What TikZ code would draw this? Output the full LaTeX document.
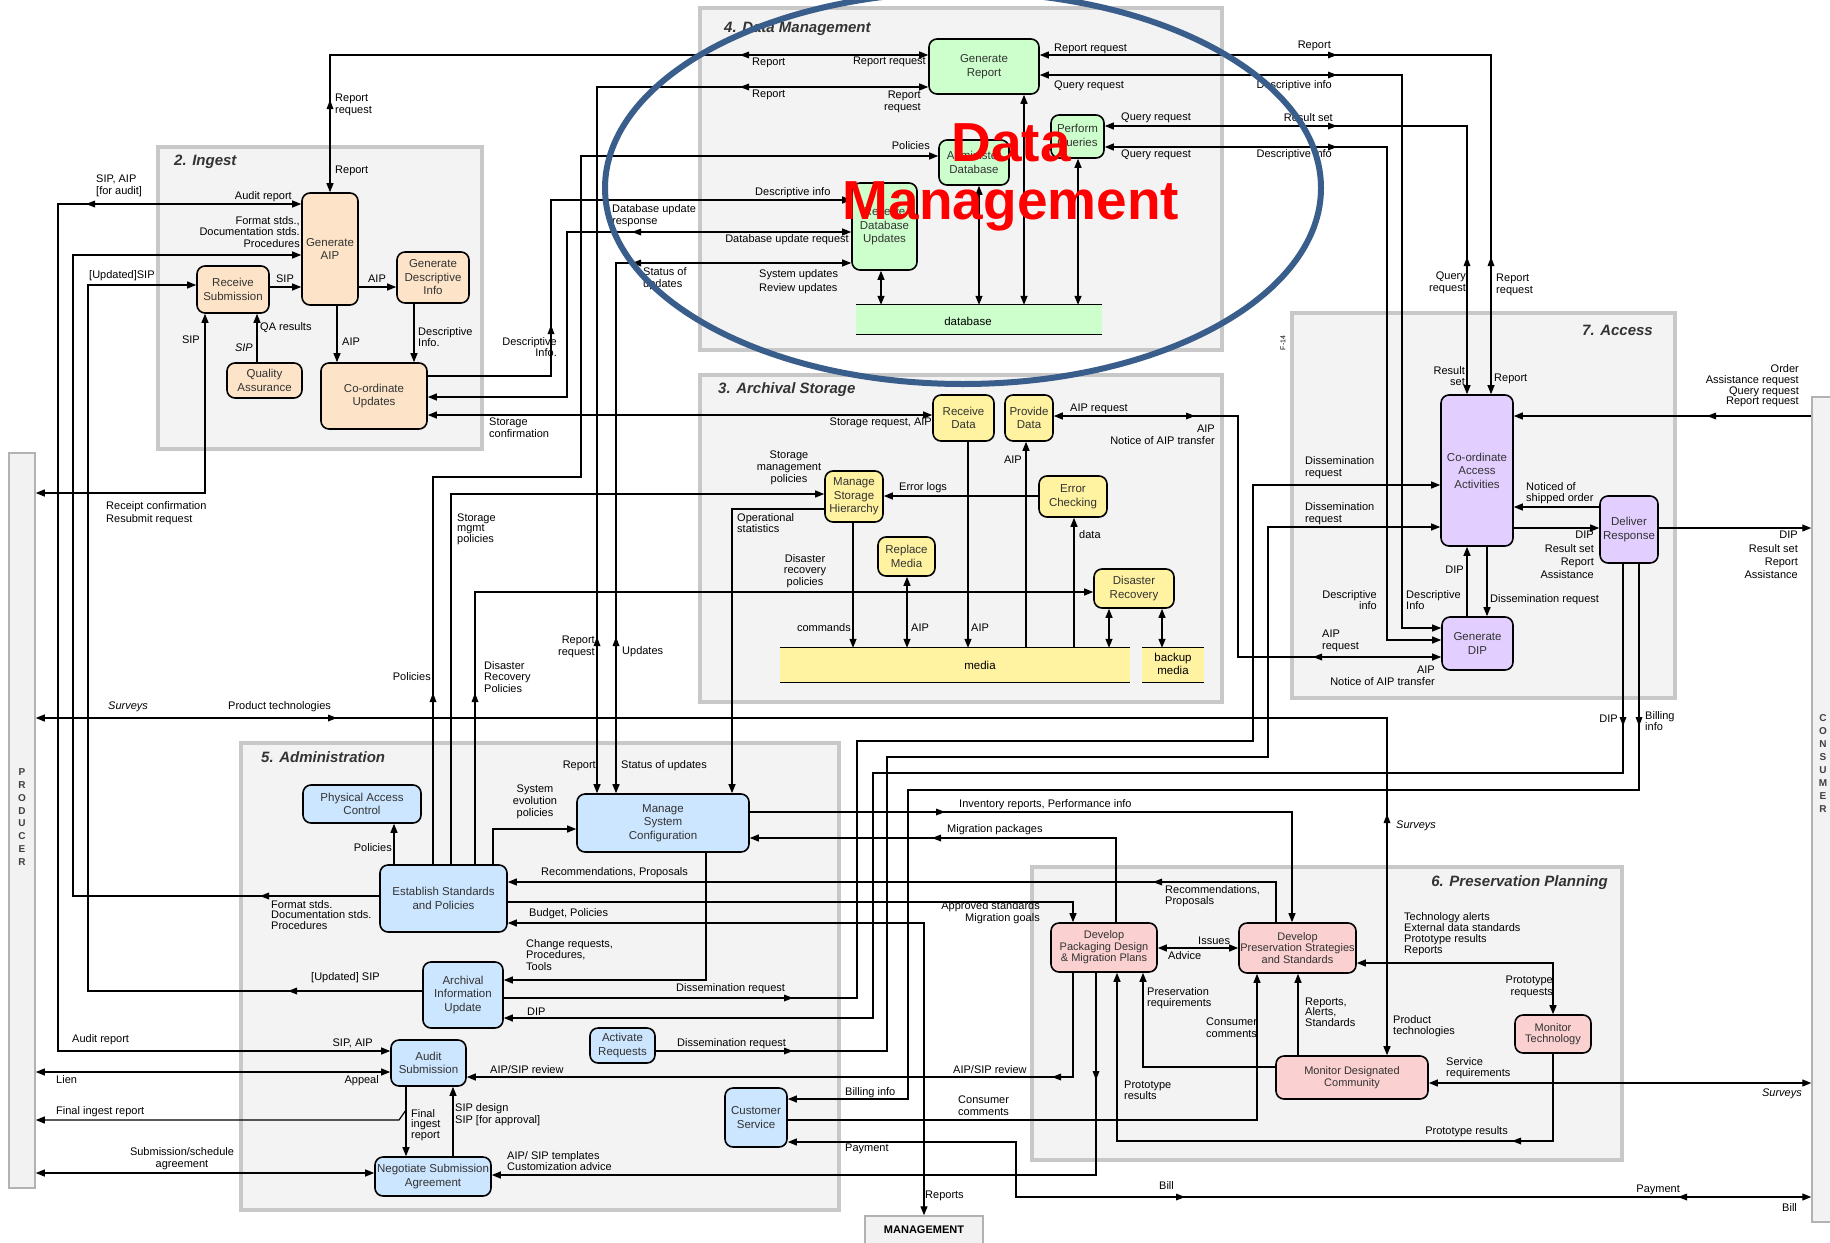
\documentclass[tikz,border=0pt]{standalone}
\usepackage{fontspec}
\setmainfont{Liberation Sans}
\usetikzlibrary{arrows.meta}
\pgfdeclarelayer{bg}
\pgfdeclarelayer{fg}
\pgfsetlayers{bg,main,fg}
\definecolor{cIng}{RGB}{253,228,200}
\definecolor{cDM}{RGB}{204,255,204}
\definecolor{cAS}{RGB}{255,242,160}
\definecolor{cAC}{RGB}{226,206,255}
\definecolor{cAD}{RGB}{204,230,255}
\definecolor{cPP}{RGB}{250,208,208}
\definecolor{grpfill}{RGB}{243,243,243}
\definecolor{grpline}{RGB}{200,200,200}
\definecolor{ringblue}{RGB}{58,94,140}
\newcommand\nodefont{\fontsize{11.5}{13.5}\selectfont}
\newcommand\ppfont{\fontsize{11}{11.5}\selectfont}
\newcommand\lbfont{\fontsize{11}{11.8}\selectfont}
\newcommand\tightfont{\fontsize{11}{10.6}\selectfont}
\newcommand\ttlfont{\fontsize{15}{17}\selectfont\bfseries\itshape}
% small filled arrowheads placed along long flow lines
\newcommand\midR[2]{\fill (#1,#2) -- ++(-9,-3.5) -- ++(0,7) -- cycle;}
\newcommand\midL[2]{\fill (#1,#2) -- ++(9,-3.5) -- ++(0,7) -- cycle;}
\newcommand\midU[2]{\fill (#1,#2) -- ++(-3.5,9) -- ++(7,0) -- cycle;}
\newcommand\midD[2]{\fill (#1,#2) -- ++(-3.5,-9) -- ++(7,0) -- cycle;}
\tikzset{
  sz/.style 2 args={minimum width=#1, minimum height=#2},
  box/.style={draw=black, line width=1.6pt, rounded corners=8pt, align=center, inner sep=1pt, font=\nodefont, text=black!80},
  ing/.style={box, fill=cIng},
  dm/.style={box, fill=cDM},
  as/.style={box, fill=cAS},
  ac/.style={box, fill=cAC},
  ad/.style={box, fill=cAD},
  pp/.style={box, fill=cPP, font=\ppfont},
  strip/.style={draw=none, inner sep=0pt},
  bar/.style={draw=gray!60, line width=1.5pt, fill=gray!10, inner sep=0pt},
  lbl/.style={font=\lbfont, inner sep=0pt, text=black},
  lw/.style={lbl, anchor=west, align=left},
  le/.style={lbl, anchor=east, align=right},
  lc/.style={lbl, align=center},
  ttl/.style={font=\ttlfont, text=black!80, inner sep=0pt},
  con/.style={line width=1.2pt},
  ar/.style={con, -{Triangle[length=9pt,width=7pt]}},
  dar/.style={con, {Triangle[length=9pt,width=7pt]}-{Triangle[length=9pt,width=7pt]}},
  grp/.style={draw=grpline, line width=4pt, fill=grpfill},
  lettr/.style={font=\fontsize{10}{12.9}\selectfont\bfseries, align=center, text=black!75, inner sep=0pt}
}
\begin{document}
\begin{tikzpicture}[x=1pt,y=-1pt]
\useasboundingbox (0,0) rectangle (1830,1242);

% ---------- external entities ----------
\node[bar, sz={26}{735}] (PROD) at (22,820.5) {};
\node[lettr] (prodtxt) at (22,817) {P\\R\\O\\D\\U\\C\\E\\R};
\node[bar, sz={20}{825}] (CONS) at (1822,809.5) {};
\node[lettr] (constxt) at (1823,763.5) {C\\O\\N\\S\\U\\M\\E\\R};
\node[bar, sz={118}{28}, font=\fontsize{11}{12}\selectfont\bfseries] (MGMT) at (924,1230) {MANAGEMENT};

% ---------- 2. Ingest ----------
\node[ing, sz={72}{47}] (RS) at (233,289.5) {Receive\\Submission};
\node[ing, sz={56}{112}] (GAIP) at (330,249) {Generate\\AIP};
\node[ing, sz={72}{51}] (GDI) at (433,277.5) {Generate\\Descriptive\\Info};
\node[ing, sz={75}{35}] (QA) at (264.5,380.5) {Quality\\Assurance};
\node[ing, sz={106}{66}] (CU) at (374,396) {Co-ordinate\\Updates};

% ---------- 4. Data Management ----------
\node[dm, sz={110}{55}] (GR) at (984,66.5) {Generate\\Report};
\node[dm, sz={53}{43}] (PQ) at (1077.5,136.5) {Perform\\Queries};
\node[dm, sz={70}{45}] (AD) at (974,162.5) {Administer\\Database};
\node[dm, sz={65}{87}] (RDU) at (884.5,226.5) {Receive\\Database\\Updates};
\node[strip, fill=cDM, sz={246}{29}] (db) at (979,319.5) {};

% ---------- 3. Archival Storage ----------
\node[as, sz={61}{46}] (RD) at (963.5,418) {Receive\\Data};
\node[as, sz={48}{46}] (PD) at (1029,418) {Provide\\Data};
\node[as, sz={58}{51}] (MSH) at (854,496.5) {Manage\\Storage\\Hierarchy};
\node[as, sz={68}{41}] (EC) at (1073,496.5) {Error\\Checking};
\node[as, sz={57}{39}] (RM) at (906.5,556.5) {Replace\\Media};
\node[as, sz={80}{39}] (DR) at (1134,588.5) {Disaster\\Recovery};
\node[strip, fill=cAS, sz={350}{34}] (media) at (955,665) {};
\node[strip, fill=cAS, sz={62}{34}] (backup) at (1173,665) {};

% ---------- 7. Access ----------
\node[ac, sz={72}{151}] (CAA) at (1477,470.5) {Co-ordinate\\Access\\Activities};
\node[ac, sz={58}{67}] (DRsp) at (1629,529.5) {Deliver\\Response};
\node[ac, sz={71}{53}] (GDIP) at (1477.5,643.5) {Generate\\DIP};

% ---------- 5. Administration ----------
\node[ad, sz={118}{38}] (PAC) at (362,804) {Physical Access\\Control};
\node[ad, sz={172}{58}] (MSC) at (663,823) {Manage\\System\\Configuration};
\node[ad, sz={127}{67}] (ESP) at (443.5,898.5) {Establish Standards\\and Policies};
\node[ad, sz={80}{66}] (AIU) at (463,995) {Archival\\Information\\Update};
\node[ad, sz={65}{35}] (AR) at (622.5,1045.5) {Activate\\Requests};
\node[ad, sz={75}{46}] (ASub) at (428.5,1063) {Audit\\Submission};
\node[ad, sz={116}{39}] (NSA) at (433,1176.5) {Negotiate Submission\\Agreement};
\node[ad, sz={62}{59}] (CS) at (756,1117.5) {Customer\\Service};

% ---------- 6. Preservation Planning ----------
\node[pp, sz={106}{49}] (DPD) at (1104,947.5) {Develop\\Packaging Design\\\& Migration Plans};
\node[pp, sz={117}{50}] (DPS) at (1297.5,948) {Develop\\Preservation Strategies\\and Standards};
\node[pp, sz={152}{43}] (MDC) at (1352,1077.5) {Monitor Designated\\Community};
\node[pp, sz={76}{38}] (MT) at (1553,1034) {Monitor\\Technology};

% storage strips: ruled top and bottom
\foreach \s in {db,media,backup}{
  \draw[con] (\s.north west) -- (\s.north east);
  \draw[con] (\s.south west) -- (\s.south east);
}
\node[lbl, font=\nodefont] (dbtxt) at (968,321) {database};
\node[lbl, font=\nodefont] (mediatxt) at (980,665) {media};
\node[lbl, font=\nodefont, align=center] (backtxt) at (1173,664) {backup\\media};

\begin{pgfonlayer}{bg}
\fill[white] (0,0) rectangle (1830,1242);
% functional areas
\draw[grp] (158,147) rectangle (482,449);
\draw[grp] (700,8) rectangle (1222,350);
\draw[grp] (700,375) rectangle (1222,702);
\draw[grp] (1292,313) rectangle (1675,698);
\draw[grp] (241,743) rectangle (839,1210);
\draw[grp] (1032,867) rectangle (1622,1160);

% Ingest flows
\draw[ar] (RS.east |- 0,287) -- (GAIP.west |- 0,287);
\draw[ar] (GAIP.east |- 0,287) -- (GDI.west |- 0,287);
\draw[ar] (337,0 |- GAIP.south) -- (337,0 |- CU.north);
\draw[ar] (414,0 |- GDI.south) -- (414,0 |- CU.north);
\draw[ar] (257,0 |- QA.north) -- (257,0 |- RS.south);
\draw[dar] (PROD.east |- 0,493) -| (205,0 |- RS.south);
\draw[dar] (GAIP.west |- 0,204) -| (58,1051) -- (ASub.west |- 0,1051);
\draw[ar] (ESP.west |- 0,896) -| (73,255) -- (GAIP.west |- 0,255);
\draw[ar] (AIU.west |- 0,991) -| (88,285) -- (RS.west |- 0,285);
\draw[dar] (CU.east |- 0,415) -- (RD.west |- 0,415);
\draw[ar] (CU.east |- 0,376) -| (551,200) -- (RDU.west |- 0,200);
\draw[dar] (CU.east |- 0,397) -| (567,232) -- (RDU.west |- 0,232);
\draw[dar] (GAIP.north) |- (GR.west |- 0,55);
\draw[dar] (597,0 |- MSC.north) |- (GR.west |- 0,87);
\draw[dar] (616,0 |- MSC.north) |- (RDU.west |- 0,263);
\draw[ar] (433,0 |- ESP.north) |- (581,477) |- (AD.west |- 0,156);
\draw[ar] (451,0 |- ESP.north) |- (MSH.west |- 0,494);
\draw[ar] (475,0 |- ESP.north) |- (DR.west |- 0,592);
\draw[ar] (493,0 |- ESP.north) |- (MSC.west |- 0,829);
\draw[ar] (394,0 |- ESP.north) -- (394,0 |- PAC.south);

% Archival storage flows
\draw[ar] (853,0 |- MSH.south) -- (853,0 |- media.north);
\draw[ar] (EC.west |- 0,496) -- (MSH.east |- 0,496);
\draw[ar] (MSH.west |- 0,509) -| (732,0 |- MSC.north);
\draw[ar] (968,0 |- RD.south) -- (968,0 |- media.north);
\draw[ar] (1026,0 |- media.north) -- (1026,0 |- PD.south);
\draw[ar] (1074,0 |- media.north) -- (1074,0 |- EC.south);
\draw[dar] (907,0 |- RM.south) -- (907,0 |- media.north);
\draw[dar] (1109,0 |- DR.south) -- (1109,0 |- media.north);
\draw[dar] (1162,0 |- DR.south) -- (1162,0 |- backup.north);
\draw[dar] (PD.east |- 0,416) -| (1238,657) -- (GDIP.west |- 0,657);

% Data management flows
\draw[dar] (881,0 |- RDU.south) -- (881,0 |- db.north);
\draw[dar] (979,0 |- AD.south) -- (979,0 |- db.north);
\draw[dar] (1024,0 |- GR.south) -- (1024,0 |- db.north);
\draw[dar] (1078,0 |- PQ.south) -- (1078,0 |- db.north);
\draw[dar] (GR.east |- 0,55) -| (1491,0 |- CAA.north);
\draw[dar] (GR.east |- 0,75) -| (1402,628) -- (GDIP.west |- 0,628);
\draw[dar] (PQ.east |- 0,126) -| (1467,0 |- CAA.north);
\draw[dar] (PQ.east |- 0,147) -| (1387,640) -- (GDIP.west |- 0,640);

% Access flows
\draw[ar] (1487,0 |- CAA.south) -- (1487,0 |- GDIP.north);
\draw[ar] (1467,0 |- GDIP.north) -- (1467,0 |- CAA.south);
\draw[ar] (CAA.east |- 0,528) -- (DRsp.west |- 0,528);
\draw[ar] (DRsp.west |- 0,507) -- (CAA.east |- 0,507);
\draw[ar] (DRsp.east |- 0,528) -- (CONS.west |- 0,528);
\draw[ar] (CONS.west |- 0,416) -- (CAA.east |- 0,416);
\draw[ar] (AIU.east |- 0,998) -| (857,741) -| (1253,485) -- (CAA.west |- 0,485);
\draw[ar] (AR.east |- 0,1051) -| (887,757) -| (1268,527) -- (CAA.west |- 0,527);
\draw[ar] (1623,0 |- DRsp.south) |- (873,773) |- (AIU.east |- 0,1018);
\draw[ar] (1639,0 |- DRsp.south) |- (908,790) |- (CS.east |- 0,1099);
\draw[dar] (CS.east |- 0,1142) -| (1016,1197) -- (CONS.west |- 0,1197);
\draw[ar] (CS.east |- 0,1120) -| (1257,0 |- DPS.south);
\draw[dar] (PROD.east |- 0,718) -| (1387,0 |- MDC.north);

% Administration flows
\draw[ar] (MSC.east |- 0,812) -| (1292,0 |- DPS.north);
\draw[ar] (1116,0 |- DPD.north) |- (MSC.east |- 0,838);
\draw[ar] (1276,0 |- DPS.north) |- (ESP.east |- 0,882);
\draw[ar] (ESP.east |- 0,902) -| (1073,0 |- DPD.north);
\draw[dar] (ESP.east |- 0,923) -| (MGMT.north);
\draw[ar] (706,0 |- MSC.south) |- (AIU.east |- 0,980);
\draw[ar] (1073,0 |- DPD.south) |- (ASub.east |- 0,1077);
\draw[ar] (1096,0 |- DPD.south) |- (NSA.east |- 0,1175);
\draw[dar] (PROD.east |- 0,1072) -- (ASub.west |- 0,1072);
\draw[ar] (406,0 |- ASub.south) -- (406,0 |- NSA.north);
\draw[ar] (406,1110) -- (399,1120) -- (PROD.east |- 0,1120);
\draw[ar] (453,0 |- NSA.north) -- (453,0 |- ASub.south);
\draw[dar] (PROD.east |- 0,1173) -- (NSA.west |- 0,1173);

% Preservation planning flows
\draw[dar] (DPD.east |- 0,948) -- (DPS.west |- 0,948);
\draw[ar] (1298,0 |- MDC.north) -- (1298,0 |- DPS.south);
\draw[ar] (MDC.west |- 0,1067) -| (1143,0 |- DPD.south);
\draw[dar] (MDC.east |- 0,1083) -- (CONS.west |- 0,1083);
\draw[dar] (DPS.east |- 0,963) -| (MT.north);
\draw[ar] (MT.south) |- (1117,1141) -- (1117,0 |- DPD.south);

% direction marks along shared lines
\midU{330}{100} \midL{740}{55} \midU{597}{637} \midL{740}{87}
\midU{616}{637} \midL{632}{263} \midU{551}{325} \midL{632}{232}
\midU{433}{693} \midU{475}{693} \midL{86}{204} \midL{260}{896}
\midL{288}{991} \midR{1195}{416} \midL{1313}{657} \midR{1337}{55}
\midU{1491}{257} \midR{1337}{75} \midR{1337}{126} \midU{1467}{257}
\midR{1337}{147} \midL{1707}{416} \midR{793}{998} \midR{793}{1051}
\midD{1623}{726} \midD{1639}{726} \midR{1185}{1197} \midL{1678}{1197}
\midR{337}{718} \midU{1387}{814} \midR{945}{812} \midL{932}{838}
\midL{1153}{882} \midL{1052}{1077} \midD{1096}{1080} \midL{1512}{1141}
\end{pgfonlayer}

% ---------- area titles ----------
\node[ttl, anchor=west] (t2) at (174,162) {2. Ingest};
\node[ttl, anchor=west] (t4) at (724,29) {4. Data Management};
\node[ttl, anchor=west] (t3) at (718,390) {3. Archival Storage};
\node[ttl, anchor=east] (t7) at (1653,330) {7. Access};
\node[ttl, anchor=west] (t5) at (261,757) {5. Administration};
\node[ttl, anchor=east] (t6) at (1608,883) {6. Preservation Planning};
\node[lbl, font=\fontsize{7}{8}\selectfont, rotate=90] (f14) at (1283,343) {F-14};

% ---------- flow labels: Ingest ----------
\node[lc] (a1) at (285,279) {SIP};
\node[lc] (a2) at (377,279) {AIP};
\node[lw] (a3) at (342,342) {AIP};
\node[lw] (a4) at (418,337) {Descriptive\\Info.};
\node[lw] (a5) at (260,328) {QA results};
\node[le, font=\lbfont\itshape] (a6) at (253,348) {SIP};
\node[le] (a7) at (200,340) {SIP};
\node[lw, font=\fontsize{11}{13}\selectfont] (a8) at (106,513) {Receipt confirmation\\Resubmit request};
\node[le] (a9) at (292,197) {Audit report};
\node[lw] (a10) at (96,186) {SIP, AIP\\{[for audit]}};
\node[le] (a11) at (300,232) {Format stds.,\\Documentation stds.\\Procedures};
\node[lw] (a12) at (89,276) {[Updated]SIP};
\node[lw] (a13) at (335,105) {Report\\request};
\node[lw] (a14) at (335,171) {Report};

% ---------- flow labels: Data Management ----------
\node[lw] (b1) at (752,63) {Report};
\node[le] (b2) at (926,62) {Report request};
\node[lw] (b3) at (752,95) {Report};
\node[le] (b4) at (921,102) {Report\\request};
\node[le] (b5) at (930,146) {Policies};
\node[lw] (b6) at (755,193) {Descriptive info};
\node[lw] (b7) at (612,216) {Database update\\response};
\node[le] (b8) at (849,240) {Database update request};
\node[lw] (b9) at (643,279) {Status of\\updates};
\node[lw, font=\fontsize{11}{14}\selectfont] (b10) at (759,282) {System updates\\Review updates};
\node[le] (b11) at (557,347) {Descriptive\\Info.};
\node[lw] (b12) at (1054,49) {Report request};
\node[le] (b13) at (1331,46) {Report};
\node[lw] (b14) at (1054,86) {Query request};
\node[le] (b15) at (1332,86) {Descriptive info};
\node[lw] (b16) at (1121,118) {Query request};
\node[le] (b17) at (1333,118) {Result set};
\node[lw] (b18) at (1121,155) {Query request};
\node[le] (b19) at (1332,155) {Descriptive info};

% ---------- flow labels: Archival Storage ----------
\node[lw] (c1) at (489,428) {Storage\\confirmation};
\node[le] (c2) at (932,423) {Storage request, AIP};
\node[lc] (c3) at (789,468) {Storage\\management\\policies};
\node[lw, font=\tightfont] (c4) at (457,529) {Storage\\mgmt\\policies};
\node[lw] (c5) at (899,488) {Error logs};
\node[lw] (c6) at (737,523) {Operational\\statistics};
\node[lc] (c7) at (805,571) {Disaster\\recovery\\policies};
\node[le] (c8) at (851,628) {commands};
\node[lw] (c9) at (971,628) {AIP};
\node[le] (c10) at (1022,460) {AIP};
\node[lw] (c11) at (1079,535) {data};
\node[lw] (c12) at (911,628) {AIP};
\node[lw] (c13) at (1070,409) {AIP request};
\node[le] (c14) at (1215,435) {AIP\\Notice of AIP transfer};
\node[le] (c15) at (595,647) {Report\\request};
\node[lw] (c16) at (622,652) {Updates};
\node[lw] (c17) at (484,677) {Disaster\\Recovery\\Policies};
\node[le] (c18) at (431,677) {Policies};

% ---------- flow labels: Access ----------
\node[le] (d1) at (1466,283) {Query\\request};
\node[lw] (d2) at (1496,285) {Report\\request};
\node[le] (d3) at (1465,376) {Result\\set};
\node[lw] (d4) at (1494,379) {Report};
\node[le, font=\tightfont] (d5) at (1799,386) {Order\\Assistance request\\Query request\\Report request};
\node[lw] (d6) at (1305,468) {Dissemination\\request};
\node[lw] (d7) at (1305,514) {Dissemination\\request};
\node[lw, font=\tightfont] (d8) at (1526,493) {Noticed of\\shipped order};
\node[le, font=\fontsize{11}{13.3}\selectfont] (d9) at (1594,555) {DIP\\Result set\\Report\\Assistance};
\node[le, font=\fontsize{11}{13.3}\selectfont] (d10) at (1798,555) {DIP\\Result set\\Report\\Assistance};
\node[le] (d11) at (1464,570) {DIP};
\node[lw] (d12) at (1490,600) {Dissemination request};
\node[le] (d13) at (1377,600) {Descriptive\\info};
\node[lw] (d14) at (1406,600) {Descriptive\\Info};
\node[lw] (d15) at (1322,641) {AIP\\request};
\node[le] (d16) at (1435,676) {AIP\\Notice of AIP transfer};
\node[le] (d17) at (1618,719) {DIP};
\node[lw, font=\tightfont] (d18) at (1645,721) {Billing\\info};
\node[lw, font=\lbfont\itshape] (d19) at (1396,826) {Surveys};
\node[lw, font=\lbfont\itshape] (d20) at (108,707) {Surveys};
\node[lw] (d21) at (228,707) {Product technologies};

% ---------- flow labels: Administration ----------
\node[le] (e1) at (392,848) {Policies};
\node[le] (e2) at (596,766) {Report};
\node[lw] (e3) at (621,766) {Status of updates};
\node[lc] (e4) at (535,802) {System\\evolution\\policies};
\node[lw] (e5) at (959,805) {Inventory reports, Performance info};
\node[lw] (e6) at (947,830) {Migration packages};
\node[lw] (e7) at (541,873) {Recommendations, Proposals};
\node[lw] (e8) at (529,914) {Budget, Policies};
\node[lw, font=\tightfont] (e9) at (271,915) {Format stds.\\Documentation stds.\\Procedures};
\node[lw] (e10) at (526,955) {Change requests,\\Procedures,\\Tools};
\node[lw] (e11) at (676,989) {Dissemination request};
\node[lw] (e12) at (527,1012) {DIP};
\node[lw] (e13) at (311,978) {[Updated] SIP};
\node[lw] (e14) at (677,1044) {Dissemination request};
\node[lw] (e15) at (72,1040) {Audit report};
\node[le] (e16) at (373,1043) {SIP, AIP};
\node[lw] (e17) at (490,1070) {AIP/SIP review};
\node[lw] (e18) at (56,1080) {Lien};
\node[le] (e19) at (379,1081) {Appeal};
\node[lw] (e20) at (845,1093) {Billing info};
\node[lw] (e21) at (56,1112) {Final ingest report};
\node[lw, font=\tightfont] (e22) at (411,1125) {Final\\ingest\\report};
\node[lw] (e23) at (455,1115) {SIP design\\SIP [for approval]};
\node[lw] (e24) at (845,1149) {Payment};
\node[lw] (e25) at (507,1161) {AIP/ SIP templates\\Customization advice};
\node[lc] (e26) at (182,1159) {Submission/schedule\\agreement};
\node[lw] (e27) at (925,1196) {Reports};
\node[lw] (e28) at (1159,1185) {Bill};
\node[le] (e29) at (1680,1190) {Payment};
\node[lw] (e30) at (1782,1207) {Bill};
\node[lw] (e31) at (958,1106) {Consumer\\comments};
\node[lw] (e32) at (953,1070) {AIP/SIP review};

% ---------- flow labels: Preservation Planning ----------
\node[lw, font=\tightfont] (f1) at (1165,896) {Recommendations,\\Proposals};
\node[le] (f2) at (1040,913) {Approved standards\\Migration goals};
\node[lw] (f3) at (1198,941) {Issues};
\node[lw] (f4) at (1168,956) {Advice};
\node[lw, font=\fontsize{11}{11}\selectfont] (f5) at (1404,934) {Technology alerts\\External data standards\\Prototype results\\Reports};
\node[le] (f6) at (1553,987) {Prototype\\requests};
\node[lw, font=\tightfont] (f7) at (1147,998) {Preservation\\requirements};
\node[lw] (f8) at (1206,1028) {Consumer\\comments};
\node[lw, font=\tightfont] (f9) at (1305,1012) {Reports,\\Alerts,\\Standards};
\node[lw, font=\tightfont] (f10) at (1393,1026) {Product\\technologies};
\node[lw, font=\tightfont] (f11) at (1446,1068) {Service\\requirements};
\node[le, font=\lbfont\itshape] (f12) at (1802,1094) {Surveys};
\node[lw, font=\tightfont] (f13) at (1124,1090) {Prototype\\results};
\node[le] (f14) at (1508,1132) {Prototype results};

% ---------- highlight ring and caption ----------
\begin{pgfonlayer}{fg}
\draw[ringblue, line width=6pt] (963,188) ellipse [x radius=358, y radius=196];
\node[font=\fontsize{55}{55}\selectfont\bfseries, text=red, inner sep=0pt, anchor=base] (hlA) at (1011,161) {Data};
\node[font=\fontsize{55}{55}\selectfont\bfseries, text=red, inner sep=0pt, anchor=base] (hlB) at (1011,219) {Management};
\end{pgfonlayer}
\end{tikzpicture}
\end{document}
